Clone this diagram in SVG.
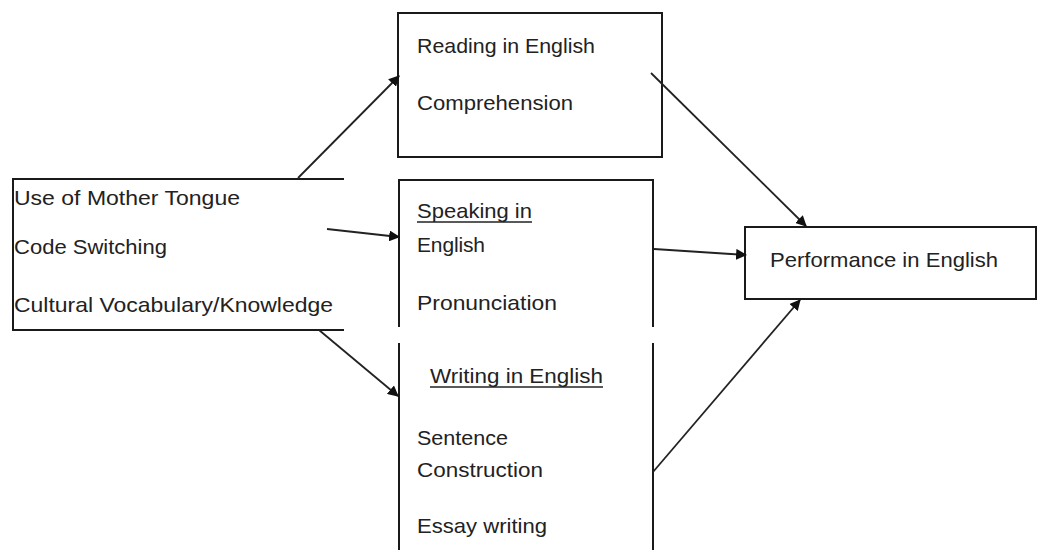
<svg xmlns="http://www.w3.org/2000/svg" width="1038" height="550" viewBox="0 0 1038 550">
<style>
.box{fill:none;stroke:#1a1a1a;stroke-width:2}
.t{font-family:"Liberation Sans",Arial,sans-serif;font-size:21px;fill:#222}
.c{stroke:#222;stroke-width:1.8;fill:none;marker-end:url(#ah)}
.u{stroke:#222;stroke-width:1.5}
</style>
<defs>
<marker id="ah" viewBox="0 0 10 10" refX="9" refY="5" markerWidth="11" markerHeight="11" markerUnits="userSpaceOnUse" orient="auto">
<path d="M0,0 L10,5 L0,10 z" fill="#111"/>
</marker>
</defs>
<rect width="1038" height="550" fill="#fff"/>
<g id="mother-tongue">
<path class="box" d="M344,179 H13 V330 H344"/>
<text class="t" x="14" y="205" textLength="226" lengthAdjust="spacingAndGlyphs">Use of Mother Tongue</text>
<text class="t" x="14" y="254" textLength="153" lengthAdjust="spacingAndGlyphs">Code Switching</text>
<text class="t" x="14" y="312" textLength="319" lengthAdjust="spacingAndGlyphs">Cultural Vocabulary/Knowledge</text>
</g>
<g id="reading">
<rect class="box" x="398" y="13" width="264" height="144"/>
<text class="t" x="417" y="53" textLength="178" lengthAdjust="spacingAndGlyphs">Reading in English</text>
<text class="t" x="417" y="110" textLength="156" lengthAdjust="spacingAndGlyphs">Comprehension</text>
</g>
<g id="speaking-writing">
<path class="box" d="M399,327 V180 H653 V327 M399,343 V552 M653,343 V552"/>
<text class="t" x="417" y="218" textLength="115" lengthAdjust="spacingAndGlyphs">Speaking in</text>
<line class="u" x1="417" y1="222" x2="532" y2="222"/>
<text class="t" x="417" y="252" textLength="68" lengthAdjust="spacing">English</text>
<text class="t" x="417" y="310" textLength="140" lengthAdjust="spacingAndGlyphs">Pronunciation</text>
<text class="t" x="430" y="383" textLength="173" lengthAdjust="spacingAndGlyphs">Writing in English</text>
<line class="u" x1="430" y1="387" x2="603" y2="387"/>
<text class="t" x="417" y="445" textLength="91" lengthAdjust="spacingAndGlyphs">Sentence</text>
<text class="t" x="417" y="477" textLength="126" lengthAdjust="spacingAndGlyphs">Construction</text>
<text class="t" x="417" y="533" textLength="130" lengthAdjust="spacingAndGlyphs">Essay writing</text>
</g>
<g id="performance">
<rect class="box" x="745" y="227" width="291" height="72"/>
<text class="t" x="770" y="267" textLength="228" lengthAdjust="spacingAndGlyphs">Performance in English</text>
</g>
<g id="connectors">
<line class="c" x1="298" y1="178" x2="399" y2="76"/>
<line class="c" x1="327" y1="229" x2="399" y2="237"/>
<line class="c" x1="319" y1="330" x2="398" y2="396"/>
<line class="c" x1="651" y1="73" x2="806" y2="226"/>
<line class="c" x1="654" y1="249" x2="746" y2="255"/>
<line class="c" x1="653" y1="472" x2="800" y2="300"/>
</g>
</svg>
